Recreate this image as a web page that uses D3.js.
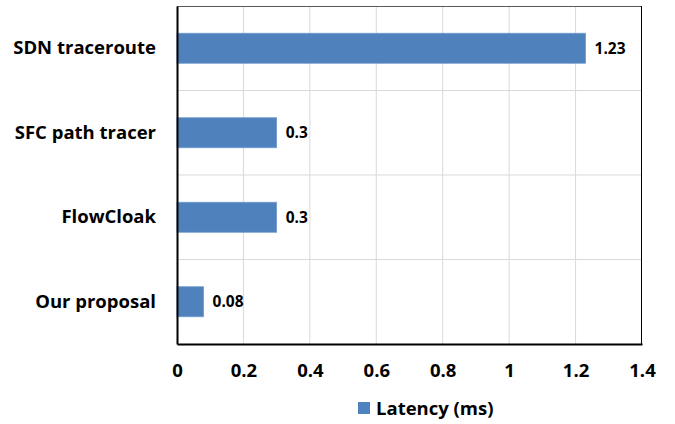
<!DOCTYPE html>
<html>
<head>
<meta charset="utf-8">
<script src="https://cdn.jsdelivr.net/npm/d3@7"></script>
<style>
  html, body { margin: 0; padding: 0; background: #fff; }
  svg { display: block; }
  svg text { font-family: "Open Sans", "Noto Sans", sans-serif; font-weight: 700; }
</style>
</head>
<body>
<svg id="chart" width="675" height="424"></svg>
<script>
// Latency comparison of path tracing approaches
const categories = ["SDN traceroute", "SFC path tracer", "FlowCloak", "Our proposal"];
const latency = [1.23, 0.3, 0.3, 0.08];
const tickValues = [0, 0.2, 0.4, 0.6, 0.8, 1, 1.2, 1.4];
const seriesName = "Latency (ms)";

const svg = d3.select("#chart");
const margin = { left: 177, right: 33, top: 6, bottom: 80 };
const W = 675, H = 424;
const x0 = margin.left, x1 = W - margin.right;
const y0 = margin.top, y1 = H - margin.bottom;

const x = d3.scaleLinear().domain([0, 1.4]).range([x0, x1]);
const y = d3.scaleBand().domain(categories).range([y0, y1]).paddingInner(0).paddingOuter(0);
const barH = y.bandwidth() * 0.355;
const color = "#4F81BD";

// grid: vertical at ticks, horizontal at category boundaries
const grid = svg.append("g");
grid.selectAll("line.v").data(tickValues.slice(1, -1)).join("line")
  .attr("x1", d => x(d)).attr("x2", d => x(d))
  .attr("y1", y0).attr("y2", y1)
  .attr("stroke", "#d9d9d9").attr("stroke-width", 1);
grid.selectAll("line.h").data(categories.slice(1)).join("line")
  .attr("x1", x0).attr("x2", x1)
  .attr("y1", d => y(d)).attr("y2", d => y(d))
  .attr("stroke", "#d9d9d9").attr("stroke-width", 1);

// bars
svg.append("g").selectAll("rect").data(categories).join("rect")
  .attr("x", x(0))
  .attr("y", d => y(d) + (y.bandwidth() - barH) / 2)
  .attr("width", (d, i) => x(latency[i]) - x(0))
  .attr("height", barH)
  .attr("fill", color)
  .attr("stroke", "#6f9ad0").attr("stroke-width", 0.8);

// value labels
svg.append("g").selectAll("text").data(categories).join("text")
  .attr("x", (d, i) => x(latency[i]) + 9)
  .attr("y", d => y(d) + y.bandwidth() / 2)
  .attr("dy", "0.36em")
  .attr("font-size", 15.5)
  .attr("fill", "#000")
  .text((d, i) => String(latency[i]));

// frame
svg.append("line").attr("x1", x0).attr("x2", x1).attr("y1", y0 + 0.5).attr("y2", y0 + 0.5)
  .attr("stroke", "#595959").attr("stroke-width", 1);
svg.append("line").attr("x1", x1 - 0.5).attr("x2", x1 - 0.5).attr("y1", y0).attr("y2", y1)
  .attr("stroke", "#000").attr("stroke-width", 1);

// axes
const xAxis = d3.axisBottom(x).tickValues(tickValues).tickSize(0).tickPadding(20)
  .tickFormat(d => String(d));
const gx = svg.append("g").attr("transform", `translate(0,${y1})`).call(xAxis)
  .attr("font-family", null).attr("font-size", null);
gx.select(".domain").attr("stroke", "#000").attr("stroke-width", 2);
gx.selectAll("text").attr("font-size", 18.5).attr("fill", "#000");

const yAxis = d3.axisLeft(y).tickSize(0).tickPadding(21);
const gy = svg.append("g").attr("transform", `translate(${x0},0)`).call(yAxis)
  .attr("font-family", null).attr("font-size", null);
gy.select(".domain").attr("stroke", "#000").attr("stroke-width", 2);
gy.selectAll("text").attr("font-size", 18.5).attr("fill", "#000");

// legend
const lg = svg.append("g").attr("transform", "translate(358,402)");
lg.append("rect").attr("width", 12).attr("height", 12).attr("fill", color);
lg.append("text").attr("x", 18).attr("y", 6).attr("dy", "0.36em")
  .attr("font-size", 18.5).attr("fill", "#000").text(seriesName);
</script>
</body>
</html>
